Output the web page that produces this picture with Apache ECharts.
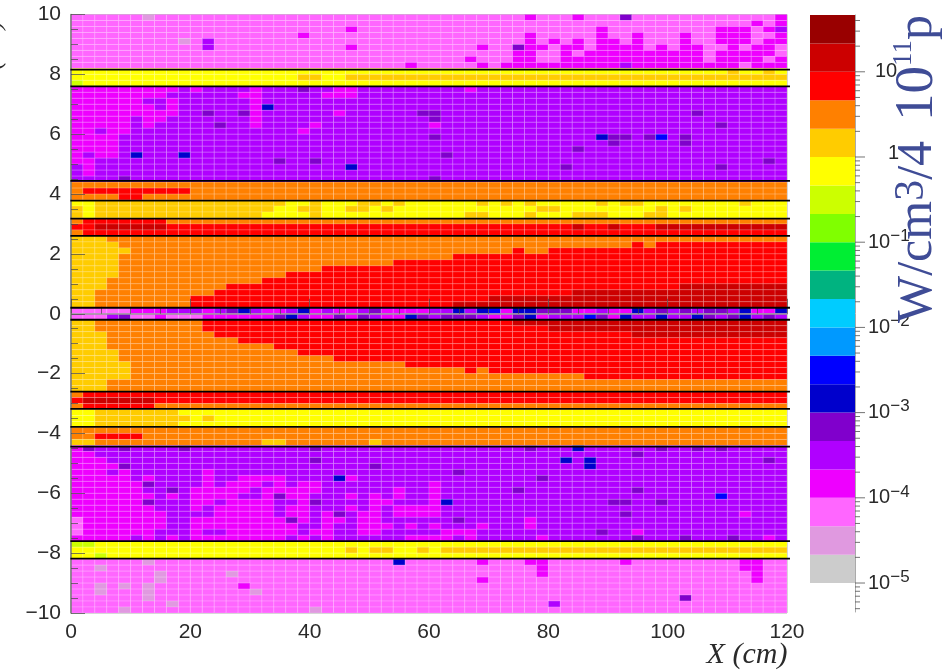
<!DOCTYPE html>
<html><head><meta charset="utf-8">
<style>html,body{margin:0;background:#fff;overflow:hidden}#c{width:943px;height:671px;filter:blur(0.45px)}</style>
<script src="https://cdn.jsdelivr.net/npm/echarts@6/dist/echarts.min.js"></script></head>
<body><div id="c"></div>
<script>
// colour levels, bottom of the colour bar to the top
const levelColors = ['#CCCCCC','#E099E0','#FF66FF','#EE00FF','#B000FF','#8000CC','#0000CC','#0000FF','#0099FF','#00CCFF','#00B380','#00EE33','#80FF00','#CCFF00','#FFFF00','#FFCC00','#FF8000','#FF0000','#CC0000','#990000'];
const levelEdges = [1e-5,2.15e-5,4.64e-5,1e-4,2.15e-4,4.64e-4,1e-3,2.15e-3,4.64e-3,0.01,0.0215,0.0464,0.1,0.215,0.464,1,2.15,4.64,10,21.5,46.4];
const G=0,L=1,P=2,M=3,V=4,D=5,N=6,B=7,LM=13,Y=14,A=15,O=16,R=17,C=18;
const xTicksCm = [0,20,40,60,80,100,120];
const sectionLines = [8.16,7.6,4.44,3.78,3.18,2.6,0.2,-0.2,-2.6,-3.18,-3.78,-4.44,-7.6,-8.18];
const barMajorTicks = [1e-5,1e-4,1e-3,0.01,0.1,1,10];
const barMinorTicks = [5e-6,6e-6,7e-6,8e-6,9e-6,2e-5,3e-5,4e-5,5e-5,6e-5,7e-5,8e-5,9e-5,2e-4,3e-4,4e-4,5e-4,6e-4,7e-4,8e-4,9e-4,2e-3,3e-3,4e-3,5e-3,6e-3,7e-3,8e-3,9e-3,0.02,0.03,0.04,0.05,0.06,0.07,0.08,0.09,0.2,0.3,0.4,0.5,0.6,0.7,0.8,0.9,2,3,4,5,6,7,8,9,20,30,40];
// rows count from the top (row 0 = 9.8..10 cm), columns are 2 cm wide
const zoneBase = [[0,8,P],[9,11,Y],[12,27,V],[28,30,O],[31,33,Y],[34,36,R],[37,48,O],[49,50,M],[51,62,O],[63,65,R],[66,68,Y],[69,71,O],[72,87,V],[88,90,Y],[91,99,P]];
// each entry: [level, row, column or [from,to] ...]
const topPink = [
[L,0,6],[M,0,38,42,59],[D,0,46],[M,1,57,59],[M,2,23,44,54,55,56,58],[V,2,59],
[M,3,19,38,44,47,51,54,55,56,59],[L,4,9],[V,4,11],[M,4,38,40,42,44,45,47,51,54,55,56,58,59],
[V,5,11],[M,5,23,34,38,39,41,42,44,45,46,47,49,51,52,55,57,58],[D,5,37],
[M,6,37,38,41,[43,52],[54,58]],[M,7,33,37,38,41,[42,52],[54,57],59],
[M,8,28,34,[36,45],[47,55],[57,59]],[V,8,46]];
const topYellow = [[A,9,55,58],[A,10,19,20,[23,59]],[LM,11,0]];
const topPurple = [
[M,12,[0,8],10,15,22,23,33],[D,12,19],
[M,13,[0,7],14,15,21,22,23],
[M,14,[0,5],8,15],[M,15,[0,6],8,15],[N,15,16],
[M,16,[0,8],15,22],[D,16,11,14,29,30,52],
[M,17,[0,4],6,7,15],[D,17,30],
[M,18,[0,4],6,15,20,30],[D,18,12,54],
[M,19,[0,1],3,4,19],[M,20,[0,3]],[D,20,30,45,46,48,51],[N,20,44],[B,20,49],
[M,21,[0,3]],[D,21,45,51],[M,22,[0,3]],[D,22,42],
[M,23,0,2,3],[N,23,5,9],[D,23,31],
[M,24,0,1],[D,24,17,20,58],[M,25,1],[N,25,23],[D,25,41,54],[M,26,1],[D,27,4,30]];
const upperOrange = [[R,29,[1,9]],[R,30,4,5]];
const upperYellow = [
[A,31,[2,17],20,24,25,27,34,36,38,44,46,47,56],
[A,32,0,[2,16],19,20,23,24,26,39,40,49,51],
[A,33,0,[2,15],20,33,34,38,42,43,44,48,49]];
const upperRed = [
[O,34,0,[8,59]],[C,35,[2,7],42,45,[49,59]],[O,36,0]];
const upperCore = [
[R,38,47,[49,59]],[R,39,37,[40,59]],[R,40,[32,59]],[R,41,[27,59]],[R,42,[21,59]],[R,43,[18,59]],
[R,44,[16,59]],[R,45,[13,59]],[R,46,[12,59]],[R,47,[10,59]],[R,48,[10,59]],
[C,45,[51,59]],[C,46,[42,59]],[C,47,[35,59]],[C,48,[32,59]],
[A,37,[0,2]],[A,38,[0,3]],[A,39,[0,4]],[A,40,[0,3]],[A,41,[0,3]],[A,42,[0,3]],[A,43,[0,3]],
[A,44,[0,2]],[A,45,[0,2]],[A,46,[0,1]],[A,47,[0,1]],[A,48,[0,1]]];
const midRows = [
[P,49,[0,4]],[V,49,[8,10],12,15,18,21,24,30,31,33,44,48,50,52,55],[D,49,13,25,39,40,41,49,51,53,54],[N,49,14,19,32,34,37,38,47,56,59],[B,49,35],
[P,50,[0,2],5,6,[8,10]],[V,50,3,19,25,30,34,40,41,42,47,48,50,51,54,57,59],[D,50,4,17,22,24,29,31,32,33,37,44,53,55,58],[N,50,18,28,38,46,49,52,56],[B,50,43]];
const lowerCore = [
[R,51,[11,59]],[R,52,[11,59]],[R,53,[12,59]],[R,54,[14,59]],[R,55,[17,59]],[R,56,[19,59]],
[R,57,[22,59]],[R,58,[28,59]],[R,59,33,[35,59]],[R,60,[43,59]],
[C,51,[37,59]],[C,52,[40,59]],[C,53,[47,59]],
[A,51,[0,1]],[A,52,[0,1]],[A,53,[0,2]],[A,54,[0,2]],[A,55,[0,2]],[A,56,[0,3]],[A,57,[0,3]],
[A,58,[0,4]],[A,59,[0,4]],[A,60,[0,4]],[A,61,[0,2]],[A,62,[0,2]]];
const lowerRed = [[O,63,0],[C,64,[1,6]],[O,65,0,[7,59]]];
const lowerYellow = [[A,66,[2,8]],[A,67,[2,9],11],[A,68,[2,8]]];
const lowerOrange = [[R,70,[2,5]],[A,71,0,1,16,17,25]];
const bottomPurple = [
[M,72,0],[D,72,1,4,9,20,38,49,52,54],[N,72,42],
[M,73,0,1],[D,73,47],
[M,74,[0,2]],[D,74,20,58],[N,74,41,43],
[M,75,[0,3]],[D,75,4,25],[N,75,43],
[M,76,[0,2],4,11],[D,76,32],
[M,77,[0,4],6,11,[14,17],23],[N,77,22],[D,77,39],
[M,78,[0,5],11,[13,15],17,19,20,30],[D,78,6],
[M,79,[0,5],[10,14],[16,20],27,30],[D,79,8,37,47],
[M,80,[0,6],8,[10,13],16,18,19,23,25,27,30],[D,80,17],[B,80,54],
[M,81,[0,5],10,11,[13,16],19,25,26,30],[D,81,6,20,45,46,49],[N,81,31],
[M,82,[0,6],10,[12,16],18,19,23,25,[27,30]],
[M,83,[0,7],[12,16],18,19,21,24,25,[27,30],56],[D,83,22,46],
[P,84,0],[M,84,[1,7],[10,17],19,21,22,24,25,38],[D,84,18,32],
[P,85,0],[M,85,[1,7],[10,18],21,24,25,26,28,30,34,38],
[P,86,0],[M,86,[1,6],10,[13,18],20,21,24,25,[31,33],47],[D,86,44],
[M,87,0,[1,4],6,8,[10,17],19,21,[28,31],33,39,58],[D,87,47,51,55]];
const bottomYellow = [[LM,88,0,1],[A,89,23,25,26,29,[31,59]],[LM,90,2]];
const bottomPink = [
[L,91,6],[N,91,27],[M,91,34,38,39,46,56,57],[L,92,2],[M,92,39,56,57],
[L,93,7,13],[M,93,39,57],[L,94,7],[M,94,34,57],
[L,95,2,4,6],[M,95,14],[L,96,2,6,15],[L,97,6],[D,97,51],[V,98,40],[L,98,8],[L,99,4,20]];

const rowsN = 100, colsN = 60;
const field = [];
for (let r=0;r<rowsN;r++) field.push(new Array(colsN).fill(P));
zoneBase.forEach(z=>{for(let r=z[0];r<=z[1];r++)field[r].fill(z[2]);});
[topPink,topYellow,topPurple,upperOrange,upperYellow,upperRed,upperCore,midRows,lowerCore,lowerRed,lowerYellow,lowerOrange,bottomPurple,bottomYellow,bottomPink].forEach(list=>{
  list.forEach(e=>{
    e.slice(2).forEach(c=>{
      const a=Array.isArray(c)?c[0]:c, b=Array.isArray(c)?c[1]:c;
      for(let k=a;k<=b;k++)field[e[1]][k]=e[0];
    });
  });
});
const cells=[];
field.forEach((row,r)=>row.forEach((lv,c)=>cells.push([c*2,+(10-(r+1)*0.2).toFixed(1),lv])));

const INK='#2a2a2a', TITLE='#3F4C96';
const chart = echarts.init(document.getElementById('c'),null,{renderer:'canvas'});
chart.setOption({
  animation:false,
  backgroundColor:'#fff',
  grid:[
    {left:71,top:14.5,width:716,height:598.5,show:true,borderColor:'#aaaaaa',borderWidth:1,backgroundColor:'transparent'},
    {left:810,top:15,width:45,height:597,show:false}
  ],
  xAxis:[
    {type:'value',gridIndex:0,min:0,max:120,interval:20,z:5,splitLine:{show:false},
     axisLine:{lineStyle:{color:'#999',width:1.5}},
     axisTick:{inside:true,length:15,lineStyle:{color:'rgba(70,70,70,.7)'}},
     minorTick:{show:true,splitNumber:4,length:7,lineStyle:{color:'rgba(70,70,70,.7)'}},
     axisLabel:{fontFamily:'Liberation Sans',fontSize:21,color:INK,margin:9,customValues:xTicksCm}},
    {type:'value',gridIndex:1,min:0,max:1,show:false,splitLine:{show:false},axisLine:{show:false},axisTick:{show:false},axisLabel:{show:false}}
  ],
  yAxis:[
    {type:'value',gridIndex:0,min:-10,max:10,interval:2,z:5,splitLine:{show:false},
     axisLine:{lineStyle:{color:'#777',width:1.5}},
     axisTick:{inside:true,length:14,lineStyle:{color:'rgba(70,70,70,.7)'}},
     minorTick:{show:true,splitNumber:4,length:7,lineStyle:{color:'rgba(70,70,70,.7)'}},
     axisLabel:{fontFamily:'Liberation Sans',fontSize:21,color:INK,margin:10,
       formatter:v=>v<0?'\u2212'+Math.abs(v):String(v)}},
    {type:'log',gridIndex:1,logBase:10,min:4.57e-6,max:46.4,position:'right',
     splitLine:{show:false},minorSplitLine:{show:false},splitArea:{show:false},axisTick:{show:false},minorTick:{show:false},
     axisLine:{show:true,onZero:false,lineStyle:{color:'#aaa'}},
     axisLabel:{show:true,margin:13,align:'left',showMinLabel:false,showMaxLabel:false,
       fontFamily:'Liberation Sans',fontSize:20,color:INK,
       rich:{b:{fontSize:20,fontFamily:'Liberation Sans',color:INK},
             s:{fontSize:17,fontFamily:'Liberation Sans',color:INK,verticalAlign:'top',padding:[0,0,12,0]},
             r:{fontSize:20,fontFamily:'Liberation Sans',color:INK,padding:[0,0,0,7]},
             o:{fontSize:20,fontFamily:'Liberation Sans',color:INK,padding:[0,0,7,20]}},
       formatter:v=>{
         const e=Math.round(Math.log10(v));
         if(Math.abs(Math.log10(v)-e)>1e-6)return '';
         if(e===1)return '{r|10}';
         if(e===0)return '{o|1}';
         return '{b|10}{s|\u2212'+Math.abs(e)+'}';
       }}}
  ],
  series:[
    {type:'custom',xAxisIndex:0,yAxisIndex:0,data:cells,z:2,progressive:0,
     encode:{x:0,y:1},
     renderItem:(p,api)=>{
       const a=api.coord([api.value(0),api.value(1)+0.2]),b=api.coord([api.value(0)+2,api.value(1)]);
       return {type:'rect',shape:{x:a[0],y:a[1],width:b[0]-a[0],height:b[1]-a[1]},
         style:{fill:levelColors[api.value(2)],stroke:'rgba(255,255,255,0.17)',lineWidth:1}};
     }},
    {type:'custom',xAxisIndex:0,yAxisIndex:0,z:6,encode:{y:0},
     data:sectionLines.map(v=>[v]),
     renderItem:(p,api)=>{
       const a=api.coord([-0.1,api.value(0)]),b=api.coord([120.5,api.value(0)]);
       return {type:'line',shape:{x1:a[0],y1:a[1],x2:b[0],y2:b[1]},style:{stroke:'#000',lineWidth:1.8}};
     }},
    {type:'custom',xAxisIndex:1,yAxisIndex:1,z:2,
     data:levelColors.map((c,i)=>[levelEdges[i],levelEdges[i+1],i]),
     encode:{y:[0,1]},
     renderItem:(p,api)=>{
       const a=api.coord([0,api.value(1)]),b=api.coord([1,api.value(0)]);
       return {type:'rect',shape:{x:a[0],y:a[1],width:b[0]-a[0],height:b[1]-a[1]},style:{fill:levelColors[api.value(2)]}};
     }},
    {type:'custom',xAxisIndex:1,yAxisIndex:1,z:3,encode:{y:0},
     data:barMajorTicks.map(v=>[v,10]).concat(barMinorTicks.map(v=>[v,5])),
     renderItem:(p,api)=>{
       const a=api.coord([1,api.value(0)]);
       return {type:'line',shape:{x1:a[0],y1:a[1],x2:a[0]+api.value(1),y2:a[1]},style:{stroke:'rgba(90,90,90,.85)',lineWidth:1}};
     }}
  ],
  graphic:[
    {type:'text',x:725,y:655,z:10,style:{text:'X (cm)',x:22,y:0,align:'center',verticalAlign:'middle',fill:INK,
       font:'italic 30px "Liberation Serif"'}},
    {type:'text',x:-7,y:56,rotation:Math.PI/2,z:10,style:{text:'Y (cm)',align:'center',verticalAlign:'middle',fill:INK,
       font:'italic 27px "Liberation Serif"'}},
    {type:'text',x:918,y:169,rotation:Math.PI/2,z:10,style:{
       text:'{a|W/cm}{s|3}{a|/4}{d|10}{t|11}{a|p}',align:'center',verticalAlign:'middle',
       rich:{a:{fontSize:50,fontFamily:'Liberation Serif',fill:TITLE,color:TITLE},
             s:{fontSize:42,fontFamily:'Liberation Serif',fill:TITLE,color:TITLE,verticalAlign:'top'},
             d:{fontSize:55,fontFamily:'Liberation Serif',fill:TITLE,color:TITLE,padding:[0,0,0,20]},
             t:{fontSize:27,fontFamily:'Liberation Serif',fill:TITLE,color:TITLE,verticalAlign:'top'}}}}
  ]
});
</script></body></html>
